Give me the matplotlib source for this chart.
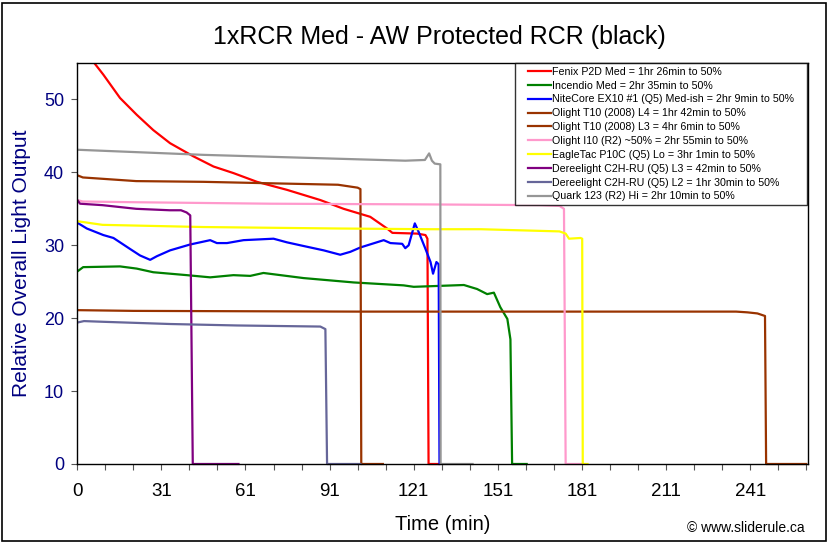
import matplotlib
matplotlib.use("Agg")
import matplotlib.pyplot as plt
from matplotlib.patches import Rectangle
from matplotlib.legend_handler import HandlerLine2D

plt.rcParams['font.family'] = ['Liberation Sans', 'DejaVu Sans']

# ---------------- data (time in minutes, relative output) ----------------
fenix_t = [0, 9.3, 15.25, 21.2, 27.1, 33.1, 41.4, 48.6, 55.7, 64.1, 74.8, 86.7, 95, 104.5,
           110.5, 112.4, 121.2, 124.2, 124.9, 125.3, 129]
fenix_v = [58, 53.4, 50.2, 47.9, 45.8, 44.0, 42.2, 40.8, 39.9, 38.7, 37.6, 36.2, 35.0, 33.9,
           32.3, 31.7, 31.6, 31.4, 30.9, 0, 0]

incendio_t = [0, 2.1, 15.25, 21.2, 27.1, 39.1, 47.4, 55.7, 61.7, 66.4, 80.7, 98.6, 116.4, 120,
              137.9, 142.6, 146.2, 148.6, 150.9, 153.4, 154.5, 155.1, 160.3]
incendio_v = [26.4, 27.0, 27.1, 26.8, 26.3, 25.9, 25.6, 25.9, 25.8, 26.2, 25.5, 24.9, 24.5, 24.3,
              24.55, 24.0, 23.3, 23.5, 21.5, 19.9, 17.1, 0, 0]

nitecore_t = [0, 3.4, 9.3, 12.9, 18.8, 22.4, 26.0, 28.4, 33.1, 40.2, 47.4, 49.8, 53.4, 59.3, 70.0,
              74.8, 80.7, 87.9, 93.8, 97.4, 101.0, 109.3, 111.7, 115.9, 117.0, 118.2, 120.4,
              121.8, 124.2, 126.0, 126.9, 128.1, 128.9, 129.2]
nitecore_v = [33.1, 32.3, 31.4, 31.0, 29.5, 28.6, 28.0, 28.5, 29.3, 30.1, 30.7, 30.3, 30.3, 30.7,
              30.9, 30.4, 29.9, 29.3, 28.7, 29.1, 29.7, 30.7, 30.3, 30.2, 29.6, 30.0, 33.0,
              31.8, 29.5, 27.7, 26.1, 27.7, 27.4, 0]

olight_l4_t = [0, 2, 21, 45, 69, 93, 100, 101, 101.3, 109]
olight_l4_v = [39.6, 39.3, 38.8, 38.7, 38.5, 38.3, 37.9, 37.7, 0, 0]

olight_l3_t = [0, 20, 100, 200, 235, 239, 242.6, 245.3, 245.7, 260]
olight_l3_v = [21.1, 21.0, 20.9, 20.9, 20.9, 20.8, 20.65, 20.3, 0, 0]

olight_i10_t = [0, 2, 21, 69, 126, 165, 172, 173.6, 174.2, 180]
olight_i10_v = [36.2, 36.0, 35.9, 35.7, 35.6, 35.5, 35.4, 35.0, 0, 0]

eagletac_t = [0, 9, 45, 93, 126, 144, 172, 174.2, 175.4, 179.5, 180.1, 180.3, 182]
eagletac_v = [33.3, 32.8, 32.5, 32.3, 32.2, 32.2, 31.9, 31.6, 30.9, 31.0, 30.9, 0, 0]

dl_l3_t = [0, 1, 9, 21, 33, 37, 39, 40.3, 41.2, 57.5]
dl_l3_v = [36.2, 35.7, 35.5, 35.0, 34.8, 34.8, 34.5, 34.1, 0, 0]

dl_l2_t = [0, 2.4, 9.5, 33.1, 56.9, 86.7, 88.5, 89.1, 101]
dl_l2_v = [19.4, 19.6, 19.5, 19.2, 19.0, 18.85, 18.5, 0, 0]

quark_t = [0, 45, 81, 117, 124, 125.5, 126.5, 127.5, 129.5, 129.6, 141]
quark_v = [43.1, 42.4, 42.0, 41.6, 41.7, 42.6, 41.6, 41.2, 41.1, 0, 0]

labels = [
    "Fenix P2D Med = 1hr 26min to 50%",
    "Incendio Med = 2hr 35min to 50%",
    "NiteCore EX10 #1 (Q5) Med-ish = 2hr 9min to 50%",
    "Olight T10 (2008) L4 = 1hr 42min to 50%",
    "Olight T10 (2008) L3 = 4hr 6min to 50%",
    "Olight I10 (R2) ~50% = 2hr 55min to 50%",
    "EagleTac P10C (Q5) Lo = 3hr 1min to 50%",
    "Dereelight C2H-RU (Q5) L3 = 42min to 50%",
    "Dereelight C2H-RU (Q5) L2 = 1hr 30min to 50%",
    "Quark 123 (R2) Hi = 2hr 10min to 50%",
]
colors = ["#FF0000", "#008000", "#0000FF", "#993300", "#993300",
          "#FF99CC", "#FFFF00", "#800080", "#666699", "#969696"]

series = [(fenix_t, fenix_v), (incendio_t, incendio_v), (nitecore_t, nitecore_v),
          (olight_l4_t, olight_l4_v), (olight_l3_t, olight_l3_v), (olight_i10_t, olight_i10_v),
          (eagletac_t, eagletac_v), (dl_l3_t, dl_l3_v), (dl_l2_t, dl_l2_v), (quark_t, quark_v)]

xtick_pos = list(range(0, 261, 10))
xlabel_pos = [0, 30, 60, 90, 120, 150, 180, 210, 240]
xlabel_txt = ["0", "31", "61", "91", "121", "151", "181", "211", "241"]
yticks = [0, 10, 20, 30, 40, 50]

# ---------------- figure ----------------
fig = plt.figure(figsize=(8.29, 5.43), dpi=100)
fig.patch.set_facecolor("white")
fig.patches.append(Rectangle((0.003, 0.004), 0.993, 0.991, transform=fig.transFigure,
                             fill=False, edgecolor="black", linewidth=1.2))

ax = fig.add_axes([0.0932, 0.1455, 0.881, 0.7385])
clip = Rectangle((0, -0.01), 1, 1.01, transform=ax.transAxes, facecolor="none", edgecolor="none")
ax.add_patch(clip)

for (t, v), c, lab in zip(series, colors, labels):
    ln, = ax.plot(t, v, color=c, lw=1.6, label=lab, solid_joinstyle="round")
    ln.set_clip_path(clip)

ax.set_xlim(0, 260.5)
ax.set_ylim(0, 55)

ax.set_xticks(xtick_pos)
ax.set_xticklabels([xlabel_txt[xlabel_pos.index(p)] if p in xlabel_pos else "" for p in xtick_pos])
ax.set_yticks(yticks)
ax.tick_params(axis="both", direction="out", length=4.5, width=0.8, color="#555555")
ax.tick_params(axis="x", labelsize=13.5, labelcolor="black", pad=9)
ax.tick_params(axis="y", labelsize=13, labelcolor="#000080", pad=5)

for s in ax.spines.values():
    s.set_color("black")
    s.set_linewidth(1.0)

ax.set_xlabel("Time (min)", fontsize=14.5, color="black", labelpad=11)
ax.set_ylabel("Relative Overall Light Output", fontsize=15, color="#000080", labelpad=9)

fig.text(0.53, 0.931, "1xRCR Med - AW Protected RCR (black)", ha="center", va="center",
         fontsize=18, color="black")
fig.text(0.971, 0.028, "\u00a9 www.sliderule.ca", ha="right", va="center", fontsize=10,
         color="black")

hmap = {ln: HandlerLine2D(xpad=0.87) for ln in ax.get_lines()}
leg = ax.legend(loc="upper left", bbox_to_anchor=(0.599, 0.0, 0.4, 1.0), mode="expand",
                borderaxespad=0, fontsize=7.7, handlelength=3.0, handletextpad=0.1,
                labelspacing=0.36, frameon=True, fancybox=False, borderpad=0.35,
                handler_map=hmap)
leg.get_frame().set_edgecolor("black")
leg.get_frame().set_linewidth(1.0)

fig.savefig("out.png", dpi=100, facecolor="white")
